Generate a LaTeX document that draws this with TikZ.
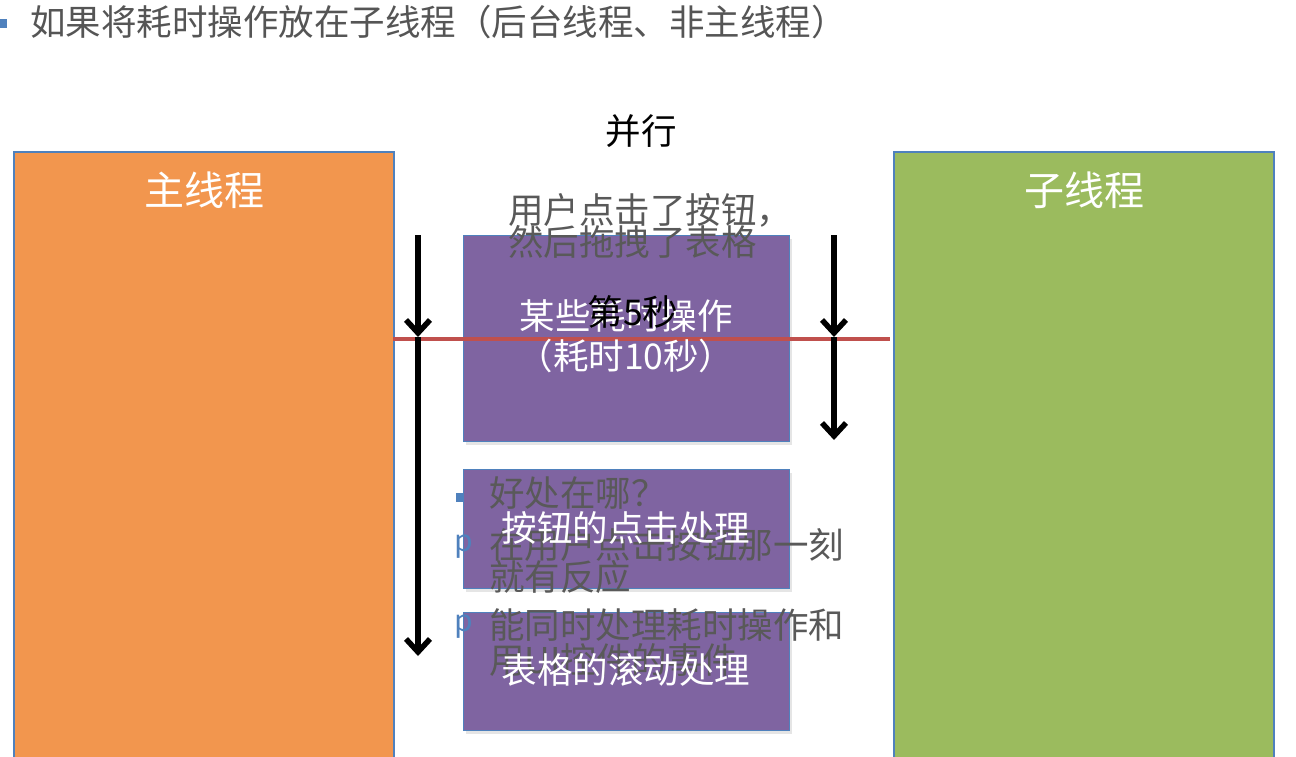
\documentclass[tikz,border=0pt]{standalone}
\usepackage{fontspec}
\setmainfont{Noto Sans CJK SC}
\usetikzlibrary{arrows.meta,shadows}
\definecolor{obg}{HTML}{F2964E}
\definecolor{gbg}{HTML}{9BBB5E}
\definecolor{pbg}{HTML}{7F64A1}
\definecolor{bord}{HTML}{4F81BD}
\definecolor{redl}{HTML}{C0504D}
\definecolor{graytxt}{HTML}{595959}
\definecolor{titletxt}{HTML}{555555}
\tikzset{
  threadbox/.style={draw=bord,line width=1.5pt,inner sep=0pt},
  taskbox/.style={draw=bord,line width=1.2pt,fill=pbg,inner sep=0pt,
    drop shadow={opacity=0.2,shadow xshift=2pt,shadow yshift=-3pt}},
  big/.style={font=\fontsize{35.5}{38}\selectfont,inner sep=0pt},
  head/.style={font=\fontsize{40}{44}\selectfont,inner sep=0pt,text=white},
  wlabel/.style={big,text=white},
  glabel/.style={big,text=graytxt,anchor=west},
  pbullet/.style={font=\fontsize{30}{32}\selectfont,text=bord,inner sep=0pt,anchor=west},
  flowline/.style={line width=5.5pt},
  flowtip/.style={-{Straight Barb[length=13pt,width=24pt,line width=5.5pt]}}
}
\begin{document}
\begin{tikzpicture}[x=1pt,y=-1pt]
\clip (0,0) rectangle (1296,756);
\fill[white] (0,0) rectangle (1296,756);
% title
\fill[bord] (-2,19) rectangle (7,28);
\node[big,text=titletxt,anchor=west] (title) at (30,22) {如果将耗时操作放在子线程（后台线程、非主线程）};
\node[big,text=black] (par) at (641,131) {并行};
% thread columns
\node[threadbox,fill=obg,minimum width=380pt,minimum height=640pt,anchor=north west] (mainT) at (13,151) {};
\node[threadbox,fill=gbg,minimum width=380pt,minimum height=640pt,anchor=north west] (subT) at (893,151) {};
\node[head] (mainL) at (204,190) {主线程};
\node[head] (subL) at (1084,190) {子线程};
% task boxes
\node[taskbox,minimum width=326pt,minimum height=206pt,anchor=north west] (op) at (463,235) {};
\node[taskbox,minimum width=326pt,minimum height=119pt,anchor=north west] (click) at (463,469) {};
\node[taskbox,minimum width=326pt,minimum height=118pt,anchor=north west] (scroll) at (463,612) {};
% red 5s line
\coordinate (rl) at (393,339);
\coordinate (rr) at (890,339);
\draw[redl,line width=4pt] (rl) -- (rr);
% arrows
\coordinate (la) at (418,235);
\coordinate (lm) at (418,337);
\coordinate (lb) at (418,656);
\coordinate (ra) at (834,235);
\coordinate (rm) at (834,337);
\coordinate (rb) at (834,440);
\draw[flowline,flowtip] (la) -- (lm);
\draw[flowline,flowtip] (lm) -- (lb);
\draw[flowline,flowtip] (ra) -- (rm);
\draw[flowline,flowtip] (rm) -- (rb);
% gray overlay texts
\node[glabel] (u1) at (508,210) {用户点击了按钮，};
\node[glabel] (u2) at (508,242) {然后拖拽了表格};
\fill[bord] (456,493) rectangle (464,502);
\node[glabel] (b1) at (489,493) {好处在哪？};
\node[pbullet] (p1) at (454,547) {p};
\node[glabel] (b2) at (489,545) {在用户点击按钮那一刻};
\node[glabel] (b3) at (489,577) {就有反应};
\node[pbullet] (p2) at (454,627) {p};
\node[glabel] (b4) at (489,625) {能同时处理耗时操作和};
\node[glabel] (b5) at (489,660) {用UI控件的事件};
% white labels
\node[wlabel] (opl1) at (626,316) {某些耗时操作};
\node[wlabel] (opl2) at (626,356) {（耗时10秒）};
\node[wlabel] (clickl) at (626,528) {按钮的点击处理};
\node[wlabel] (scrolll) at (626,670) {表格的滚动处理};
% 5th second
\node[big,text=black] (fifth) at (633,312) {第5秒};
\end{tikzpicture}
\end{document}
